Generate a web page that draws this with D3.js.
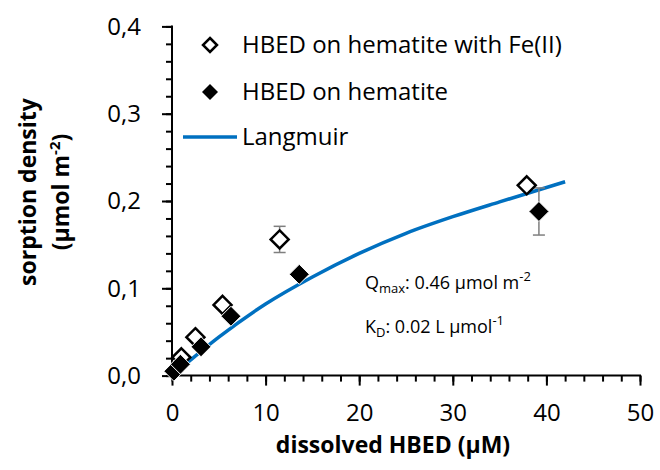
<!DOCTYPE html>
<html>
<head>
<meta charset="utf-8">
<script src="https://cdn.jsdelivr.net/npm/d3@7"></script>
<style>
  html, body { margin: 0; padding: 0; background: #fff; }
  svg text { font-family: "Open Sans", "Noto Sans", sans-serif; fill: #000; }
</style>
</head>
<body>
<svg id="chart" width="660" height="470"></svg>
<script>
// Sorption isotherm of HBED on hematite
const withFeX = [1.0, 2.5, 5.4, 11.5, 37.9];
const withFeY = [0.021, 0.044, 0.081, 0.156, 0.218];
const withFeErr = [0, 0, 0, 0.015, 0];

const plainX = [0.2, 0.9, 3.1, 6.3, 13.6, 39.2];
const plainY = [0.005, 0.013, 0.033, 0.068, 0.116, 0.188];
const plainErr = [0, 0, 0, 0, 0, 0.027];

// Langmuir fit curve, sampled
const fitX = [0, 2, 5, 10, 15, 20, 25, 30, 35, 42];
const fitY = [0, 0.018, 0.044, 0.082, 0.113, 0.140, 0.163, 0.182, 0.199, 0.222];

const xTicks = [0, 10, 20, 30, 40, 50];
const yTicks = [0, 0.1, 0.2, 0.3, 0.4];
const legendLabels = ["HBED on hematite with Fe(II)", "HBED on hematite", "Langmuir"];

const svg = d3.select("#chart");
const x = d3.scaleLinear().domain([0, 50]).range([172, 640]);
const y = d3.scaleLinear().domain([0, 0.4]).range([375.6, 26.4]);
const fmt = v => d3.format(".1f")(v).replace(".", ",");

// Y axis with minor ticks
const yAxisMinor = d3.axisLeft(y).tickValues(d3.range(0, 0.401, 0.02)).tickSize(6).tickFormat("");
svg.append("g").attr("transform", "translate(172,0)").call(yAxisMinor)
  .call(g => g.selectAll("line").attr("stroke", "#000").attr("stroke-width", 2))
  .call(g => g.select(".domain").remove());
const yAxis = d3.axisLeft(y).tickValues(yTicks).tickSize(10).tickPadding(21).tickFormat(fmt);
svg.append("g").attr("transform", "translate(172,0)").call(yAxis)
  .call(g => g.selectAll("line").attr("stroke", "#000").attr("stroke-width", 2))
  .call(g => g.select(".domain").remove())
  .call(g => g.selectAll("text").style("font-size", "24px").attr("dy", "0.33em"));

// X axis with minor ticks
const xAxisMinor = d3.axisBottom(x).tickValues(d3.range(0, 50.1, 2)).tickSize(6).tickFormat("");
svg.append("g").attr("transform", "translate(0,375.6)").call(xAxisMinor)
  .call(g => g.selectAll("line").attr("stroke", "#000").attr("stroke-width", 2))
  .call(g => g.select(".domain").remove());
const xAxis = d3.axisBottom(x).tickValues(xTicks).tickSize(10).tickPadding(18).tickFormat(d3.format("d"));
svg.append("g").attr("transform", "translate(0,375.6)").call(xAxis)
  .call(g => g.selectAll("line").attr("stroke", "#000").attr("stroke-width", 2))
  .call(g => g.select(".domain").remove())
  .call(g => g.selectAll("text").style("font-size", "24px"));

// Axis lines
svg.append("line").attr("x1", x(0)).attr("x2", x(0)).attr("y1", y(0.4) - 1).attr("y2", y(0) + 1)
  .attr("stroke", "#000").attr("stroke-width", 2);
svg.append("line").attr("x1", x(0) - 1).attr("x2", x(50) + 1).attr("y1", y(0)).attr("y2", y(0))
  .attr("stroke", "#000").attr("stroke-width", 2);

// Axis titles
svg.append("text").attr("x", 393).attr("y", 453).attr("text-anchor", "middle")
  .style("font-size", "23px").style("font-weight", "bold").text("dissolved HBED (µM)");
const yt = svg.append("g").attr("transform", "translate(0,192) rotate(-90)");
yt.append("text").attr("x", 0).attr("y", 36).attr("text-anchor", "middle")
  .style("font-size", "23px").style("font-weight", "bold").text("sorption density");
const yt2 = yt.append("text").attr("x", 0).attr("y", 69).attr("text-anchor", "middle")
  .style("font-size", "23px").style("font-weight", "bold");
yt2.append("tspan").text("(µmol m");
yt2.append("tspan").attr("dy", -9).style("font-size", "15px").text("-2");
yt2.append("tspan").attr("dy", 9).text(")");

// Langmuir curve
const line = d3.line().x((d, i) => x(fitX[i])).y((d, i) => y(fitY[i])).curve(d3.curveMonotoneX);
svg.append("path").datum(fitX).attr("d", line).attr("fill", "none")
  .attr("stroke", "#0070C0").attr("stroke-width", 3.5);

// Error bars
function errorBars(xs, ys, es) {
  const g = svg.append("g").attr("stroke", "#7f7f7f").attr("stroke-width", 1.5);
  xs.forEach((xv, i) => {
    if (!es[i]) return;
    const cx = x(xv), y1 = y(ys[i] - es[i]), y2 = y(ys[i] + es[i]);
    g.append("line").attr("x1", cx).attr("x2", cx).attr("y1", y1).attr("y2", y2);
    g.append("line").attr("x1", cx - 6).attr("x2", cx + 6).attr("y1", y1).attr("y2", y1);
    g.append("line").attr("x1", cx - 6).attr("x2", cx + 6).attr("y1", y2).attr("y2", y2);
  });
}
errorBars(withFeX, withFeY, withFeErr);
errorBars(plainX, plainY, plainErr);

const diamond = r => `M0,${-r}L${r},0L0,${r}L${-r},0Z`;

// Open diamonds: with Fe(II)
svg.append("g").selectAll("path").data(withFeX).join("path")
  .attr("d", diamond(9))
  .attr("transform", (d, i) => `translate(${x(d)},${y(withFeY[i])})`)
  .attr("fill", "#fff").attr("stroke", "#000").attr("stroke-width", 2.5);

// Filled diamonds
svg.append("g").selectAll("path").data(plainX).join("path")
  .attr("d", diamond(10))
  .attr("transform", (d, i) => `translate(${x(d)},${y(plainY[i])})`)
  .attr("fill", "#000").attr("stroke", "#fff").attr("stroke-width", 1);

// Legend
const lg = svg.append("g");
lg.append("path").attr("d", diamond(7)).attr("transform", "translate(210,45)")
  .attr("fill", "#fff").attr("stroke", "#000").attr("stroke-width", 2.5);
lg.append("path").attr("d", diamond(8)).attr("transform", "translate(210,92)").attr("fill", "#000");
lg.append("line").attr("x1", 183).attr("x2", 237).attr("y1", 137).attr("y2", 137)
  .attr("stroke", "#0070C0").attr("stroke-width", 3.5);
[53, 100, 145].forEach((by, i) => {
  lg.append("text").attr("x", 242).attr("y", by).style("font-size", "24px").text(legendLabels[i]);
});

// Fit parameters
const q = svg.append("text").attr("x", 365).attr("y", 289).style("font-size", "18px");
q.append("tspan").text("Q");
q.append("tspan").attr("dy", 4).style("font-size", "13px").text("max");
q.append("tspan").attr("dy", -4).text(": 0.46 µmol m");
q.append("tspan").attr("dy", -8).style("font-size", "13px").text("-2");
const k = svg.append("text").attr("x", 365).attr("y", 333).style("font-size", "18px");
k.append("tspan").text("K");
k.append("tspan").attr("dy", 4).style("font-size", "13px").text("D");
k.append("tspan").attr("dy", -4).text(": 0.02 L µmol");
k.append("tspan").attr("dy", -8).style("font-size", "13px").text("-1");
</script>
</body>
</html>
